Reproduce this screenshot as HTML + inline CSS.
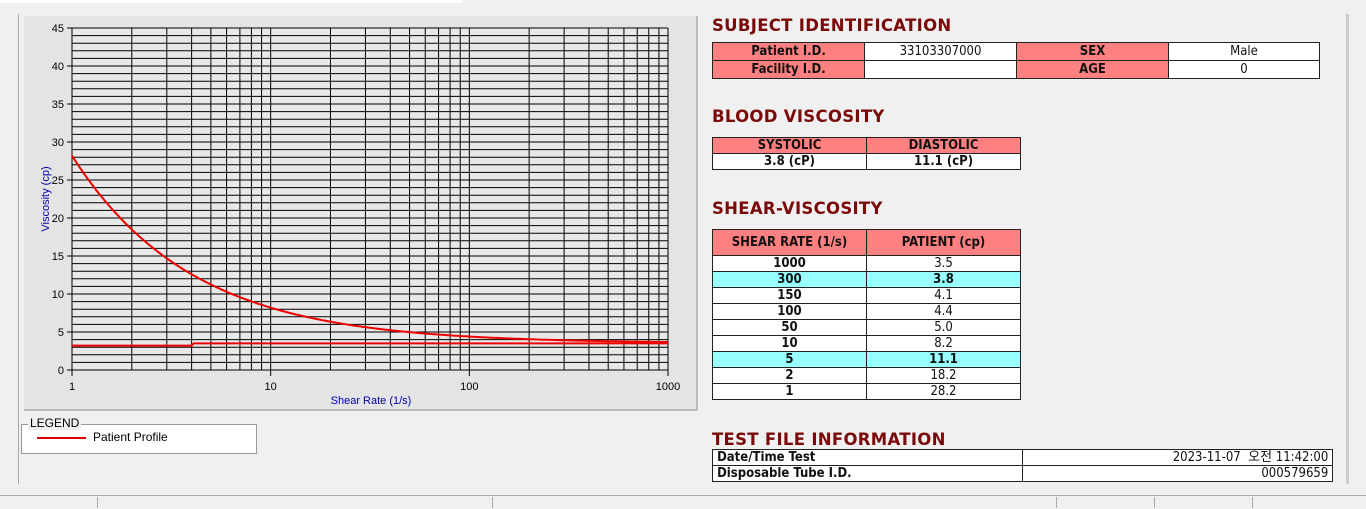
<!DOCTYPE html>
<html><head><meta charset="utf-8"><style>
body{margin:0;width:1366px;height:508px;background:#f0f0f0;position:relative;overflow:hidden;font-family:"Liberation Sans","Noto Sans CJK KR",sans-serif}
.a{position:absolute}
h2{position:absolute;margin:0;font:bold 16.5px "DejaVu Sans",sans-serif;color:#7a0a0a;letter-spacing:0.3px}
table{position:absolute;border-collapse:collapse;font:bold 13px "DejaVu Sans Condensed","DejaVu Sans",sans-serif;color:#111}
td{border:1px solid #222;padding:0;text-align:center;height:17px;line-height:15px}
.p{background:#ff8080}.w{background:#fff}.c{background:#99ffff}
.n{font-weight:normal}
</style></head><body>
<div class="a" style="left:0;top:0;width:462px;height:3px;background:#fff"></div>
<div class="a" style="left:18px;top:14px;width:1px;height:470px;background:#aaa"></div>
<div class="a" style="left:1346px;top:14px;width:3px;height:470px;background:#ccc"></div>
<div class="a" style="left:24px;top:16px;width:672px;height:393px;background:#e4e4e4;border-right:2px solid #bbb;border-bottom:2px solid #bbb"></div>
<svg class="a" style="left:0;top:0" width="700" height="412" id="ch"></svg>
<div class="a" style="left:21px;top:424px;width:234px;height:28px;background:#fff;border:1px solid #999"></div>
<div class="a" style="left:28px;top:416px;font-size:12px;background:#f0f0f0;padding:0 2px">LEGEND</div>
<div class="a" style="left:37px;top:437px;width:49px;height:2px;background:#d00"></div>
<div class="a" style="left:93px;top:430px;font-size:12px">Patient Profile</div>

<h2 style="left:712px;top:16px">SUBJECT IDENTIFICATION</h2>
<table style="left:712px;top:42px;width:608px">
<tr><td class="p" style="width:151px">Patient I.D.</td><td class="w n" style="width:151px">33103307000</td><td class="p" style="width:151px">SEX</td><td class="w n">Male</td></tr>
<tr><td class="p">Facility I.D.</td><td class="w n"></td><td class="p">AGE</td><td class="w n">0</td></tr></table>

<h2 style="left:712px;top:107px">BLOOD VISCOSITY</h2>
<table style="left:712px;top:137px;width:309px">
<tr><td class="p" style="width:153px;height:15px">SYSTOLIC</td><td class="p" style="height:15px">DIASTOLIC</td></tr>
<tr><td class="w" style="height:15px">3.8 (cP)</td><td class="w" style="height:15px">11.1 (cP)</td></tr></table>

<h2 style="left:712px;top:199px">SHEAR-VISCOSITY</h2>
<table style="left:712px;top:229px;width:309px">
<tr><td class="p" style="width:153px;height:25px">SHEAR RATE (1/s)</td><td class="p" style="height:25px">PATIENT (cp)</td></tr>
<tr><td class="w" style="height:15px">1000</td><td class="w n" style="height:15px">3.5</td></tr>
<tr><td class="c" style="height:15px">300</td><td class="c" style="height:15px">3.8</td></tr>
<tr><td class="w" style="height:15px">150</td><td class="w n" style="height:15px">4.1</td></tr>
<tr><td class="w" style="height:15px">100</td><td class="w n" style="height:15px">4.4</td></tr>
<tr><td class="w" style="height:15px">50</td><td class="w n" style="height:15px">5.0</td></tr>
<tr><td class="w" style="height:15px">10</td><td class="w n" style="height:15px">8.2</td></tr>
<tr><td class="c" style="height:15px">5</td><td class="c" style="height:15px">11.1</td></tr>
<tr><td class="w" style="height:15px">2</td><td class="w n" style="height:15px">18.2</td></tr>
<tr><td class="w" style="height:15px">1</td><td class="w n" style="height:15px">28.2</td></tr></table>

<h2 style="left:712px;top:430px">TEST FILE INFORMATION</h2>
<table style="left:712px;top:449px;width:621px">
<tr><td class="w" style="width:309px;text-align:left;height:15px">&nbsp;Date/Time Test</td><td class="w n" style="text-align:right;height:15px">2023-11-07 &nbsp;오전 11:42:00&nbsp;</td></tr>
<tr><td class="w" style="text-align:left;height:15px">&nbsp;Disposable Tube I.D.</td><td class="w n" style="text-align:right;height:15px">000579659&nbsp;</td></tr></table>

<div class="a" style="left:0;top:495px;width:1366px;height:13px;background:#f0f0f0;border-top:1px solid #aaa"></div>
<div class="a" style="left:97px;top:497px;width:1px;height:11px;background:#aaa"></div>
<div class="a" style="left:492px;top:497px;width:1px;height:11px;background:#aaa"></div>
<div class="a" style="left:1056px;top:497px;width:1px;height:11px;background:#aaa"></div>
<div class="a" style="left:1154px;top:497px;width:1px;height:11px;background:#aaa"></div>
<div class="a" style="left:1252px;top:497px;width:1px;height:11px;background:#aaa"></div>
<script>
var s=document.getElementById('ch'),h='';
function X(v){return 72+198.67*Math.log10(v)}function Y(v){return 370-7.6*v}
h+='<rect x="72" y="28" width="596" height="342" fill="#e8e8e8"/>';
for(var i=0;i<=45;i++){var y=Y(i);h+='<line x1="72" x2="668" y1="'+y+'" y2="'+y+'" stroke="#000" stroke-width="1"/>';}
for(var d=1;d<1000;d*=10)for(var k=1;k<10;k++){var x=X(d*k);h+='<line y1="28" y2="370" x1="'+x+'" x2="'+x+'" stroke="#000"/>';}
h+='<line y1="28" y2="370" x1="668" x2="668" stroke="#000"/>';
for(var i=0;i<=45;i+=5){h+='<line x1="67" x2="72" y1="'+Y(i)+'" y2="'+Y(i)+'" stroke="#000"/><text x="64" y="'+(Y(i)+4)+'" font-size="11" text-anchor="end" font-family="Liberation Sans">'+i+'</text>';}
[1,10,100,1000].forEach(function(v){h+='<line y1="370" y2="376" x1="'+X(v)+'" x2="'+X(v)+'" stroke="#000"/><text x="'+X(v)+'" y="390" font-size="11" text-anchor="middle" font-family="Liberation Sans">'+v+'</text>';});
h+='<text x="371" y="404" font-size="11" fill="#00a" text-anchor="middle" font-family="Liberation Sans">Shear Rate (1/s)</text>';
h+='<text transform="translate(49,199) rotate(-90)" font-size="11" fill="#00a" text-anchor="middle" font-family="Liberation Sans">Viscosity (cp)</text>';
var p=[];for(var i=0;i<=300;i++){var lx=i/100,v=Math.pow(10,lx);var vis=3.51+24.69*Math.pow(v,-0.721);p.push(X(v).toFixed(1)+','+Y(vis).toFixed(1));}
h+='<polyline points="'+p.join(' ')+'" fill="none" stroke="#e00" stroke-width="2"/>';
h+='<polyline points="72,'+Y(3.2)+' '+X(4)+','+Y(3.2)+' '+X(4.1)+','+Y(3.5)+' 668,'+Y(3.5)+'" fill="none" stroke="#e00" stroke-width="2"/>';
s.innerHTML=h;
</script>
</body></html>
